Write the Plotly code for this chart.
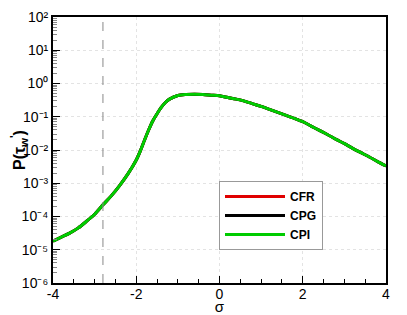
import plotly.graph_objects as go

sigma = [-4.0, -3.8, -3.6, -3.4, -3.2, -3.0, -2.8, -2.6, -2.4, -2.2, -2.0,
         -1.9, -1.8, -1.7, -1.6, -1.5, -1.4, -1.3, -1.2, -1.0, -0.8, -0.6, -0.4, -0.2, 0.0,
         0.2, 0.4, 0.6, 0.8, 1.0, 1.2, 1.4, 1.6, 1.8, 2.0,
         2.2, 2.4, 2.6, 2.8, 3.0, 3.2, 3.4, 3.6, 3.8, 4.0]
p_cpi = [1.82e-5, 2.40e-5, 3.16e-5, 4.47e-5, 7.08e-5, 1.17e-4, 2.24e-4, 4.17e-4,
         8.51e-4, 1.91e-3, 5.01e-3,
         9.55e-3, 2.00e-2, 4.07e-2, 7.59e-2, 0.123, 0.191, 0.269, 0.339,
         0.437, 0.468, 0.479, 0.468, 0.447, 0.427,
         0.380, 0.339, 0.295, 0.245, 0.204, 0.166, 0.135, 0.110, 0.0891, 0.0708,
         0.0525, 0.0389, 0.0288, 0.0209, 0.0155, 0.0112, 0.00832, 0.00617, 0.00447,
         0.00331]
p_cfr = list(p_cpi)
p_cpg = list(p_cpi)
series = [("CFR", p_cfr, "#e00000"), ("CPG", p_cpg, "#000000"), ("CPI", p_cpi, "#00cc00")]
sigma_ref = -2.8

y_tickvals = [1e-6, 1e-5, 1e-4, 1e-3, 1e-2, 1e-1, 1e0, 1e1, 1e2]
y_ticktext = ["10⁻⁶", "10⁻⁵", "10⁻⁴", "10⁻³", "10⁻²", "10⁻¹", "10⁰", "10¹", "10²"]
x_tickvals = [-4, -2, 0, 2, 4]
x_ticktext = ["-4", "-2", "0", "2", "4"]

fig = go.Figure()
for name, vals, col in series:
    fig.add_trace(go.Scatter(x=sigma, y=vals, mode="lines", name=name,
                             line=dict(color=col, width=3, shape="spline", smoothing=0.8)))

fig.add_vline(x=sigma_ref, line=dict(color="#888888", width=1, dash="dash"))

font = "Liberation Sans, Arial, sans-serif"
# page body has an 8px default margin; figure offset accordingly
fig.update_layout(
    width=399, height=307,
    margin=dict(l=45, r=21, t=9, b=32),
    paper_bgcolor="white", plot_bgcolor="white",
    font=dict(family=font, size=14, color="black"),
    showlegend=True,
    legend=dict(x=0.4985, y=0.124, xanchor="left", yanchor="bottom",
                bgcolor="white", bordercolor="#999999", borderwidth=1,
                font=dict(family=font, size=12, color="black", weight="bold"),
                itemwidth=60, tracegroupgap=0,
                entrywidth=115, entrywidthmode="pixels"),
)
fig.update_xaxes(
    range=[-4, 4], tickvals=x_tickvals, ticktext=x_ticktext,
    showline=True, linecolor="black", linewidth=2, mirror=True,
    ticks="inside", ticklen=7, tickwidth=1, tickcolor="black",
    minor=dict(dtick=0.5, tick0=0, ticks="inside", ticklen=4, tickcolor="black", showgrid=False),
    showgrid=True, gridcolor="#e3e3e3", griddash="dot", gridwidth=1,
    zeroline=False, automargin=False, ticklabelstandoff=-3,
    title=dict(text="σ", standoff=6, font=dict(size=15)),
    tickfont=dict(size=14),
)
fig.update_yaxes(
    type="log", range=[-6, 2], tickvals=y_tickvals, ticktext=y_ticktext,
    showline=True, linecolor="black", linewidth=2, mirror=True,
    ticks="inside", ticklen=7, tickwidth=1, tickcolor="black",
    minor=dict(dtick="D1", ticks="inside", ticklen=4, tickcolor="#888888", showgrid=False),
    showgrid=True, gridcolor="#e3e3e3", griddash="dot", gridwidth=1,
    zeroline=False, automargin=False,
    title=dict(text="<b>P(τ<sub>w</sub><sup>'</sup>)</b>", standoff=2, font=dict(size=16)),
    tickfont=dict(size=14),
)
fig.write_html("out.html")
